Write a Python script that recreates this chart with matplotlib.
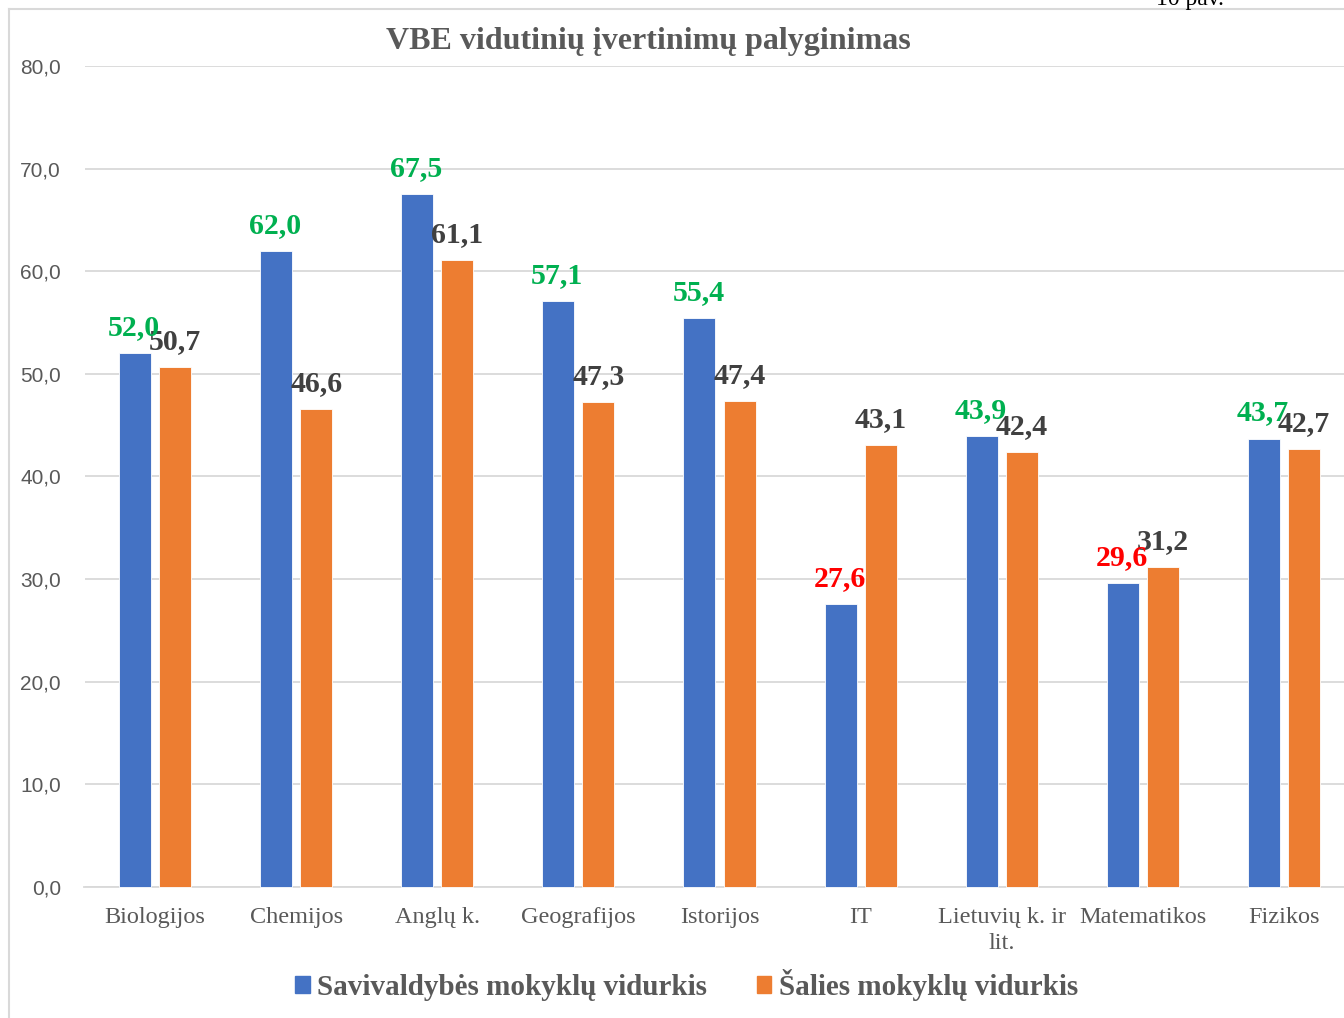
import matplotlib
matplotlib.use("Agg")
import matplotlib.pyplot as plt
from matplotlib.patches import Patch
import numpy as np

categories = ["Biologijos", "Chemijos", "Anglų k.", "Geografijos", "Istorijos",
              "IT", "Lietuvių k. ir\nlit.", "Matematikos", "Fizikos"]
savivaldybes = [52.0, 62.0, 67.5, 57.1, 55.4, 27.6, 43.9, 29.6, 43.7]
salies = [50.7, 46.6, 61.1, 47.3, 47.4, 43.1, 42.4, 31.2, 42.7]
yticks = [0, 10, 20, 30, 40, 50, 60, 70, 80]

BLUE = "#4472C4"
ORANGE = "#ED7D31"
GRAY = "#595959"
SERIF = ["Liberation Serif", "DejaVu Serif"]
SANS = ["Liberation Sans", "DejaVu Sans"]

fig = plt.figure(figsize=(13.44, 10.18), dpi=100)
ax = fig.add_axes([84.5 / 1344, 131 / 1018, 1270 / 1344, 821 / 1018])

x = np.arange(len(categories))
w = 0.227
off = 0.142
ax.bar(x - off, savivaldybes, w, color=BLUE, edgecolor="white", linewidth=0.6, zorder=3, clip_on=False)
ax.bar(x + off, salies, w, color=ORANGE, edgecolor="white", linewidth=0.6, zorder=3, clip_on=False)

def fmt(v):
    return f"{v:.1f}".replace(".", ",")

for xi, a, b in zip(x, savivaldybes, salies):
    col = "#00B050" if a >= b else "#FF0000"
    ax.annotate(fmt(a), (xi - off, a), xytext=(-1, 18), textcoords="offset pixels",
                ha="center", va="baseline", fontsize=21.5, fontweight="bold",
                family=SERIF, color=col, zorder=5, annotation_clip=False)
    ax.annotate(fmt(b), (xi + off, b), xytext=(0, 18), textcoords="offset pixels",
                ha="center", va="baseline", fontsize=21.5, fontweight="bold",
                family=SERIF, color="#404040", zorder=4, annotation_clip=False)

ax.set_xlim(-0.5, 8.5)
ax.set_ylim(0, 80)
ax.set_yticks(yticks)
ax.set_yticklabels([fmt(v) for v in yticks], family=SANS, fontsize=15, color=GRAY)
ax.set_xticks(x)
ax.set_xticklabels(categories, family=SERIF, fontsize=17.5, color=GRAY, linespacing=1.3)
ax.tick_params(axis="both", length=0)
ax.tick_params(axis="y", pad=17)
ax.tick_params(axis="x", pad=14.5)
ax.grid(axis="y", color="#D9D9D9", linewidth=1.3, zorder=0)
for s in ["top", "right", "left"]:
    ax.spines[s].set_visible(False)
ax.spines["bottom"].set_color("#D9D9D9")
ax.spines["bottom"].set_linewidth(1.3)

fig.text(648 / 1344, 1 - 42 / 1018, "VBE vidutinių įvertinimų palyginimas",
         ha="center", va="center", fontsize=23, fontweight="bold", family=SERIF, color=GRAY)

fig.text(1190 / 1344, 1 - 5 / 1018, "10 pav.", ha="center", va="baseline",
         fontsize=17, family=SERIF, color="black")

# outer border
fig.add_artist(plt.Line2D([9 / 1344, 9 / 1344], [0, 1 - 9 / 1018], transform=fig.transFigure,
                          color="#D9D9D9", linewidth=1.5))
fig.add_artist(plt.Line2D([9 / 1344, 1], [1 - 9 / 1018, 1 - 9 / 1018], transform=fig.transFigure,
                          color="#D9D9D9", linewidth=1.5))

handles = [Patch(color=BLUE), Patch(color=ORANGE)]
fig.legend(handles, ["Savivaldybės mokyklų vidurkis", "Šalies mokyklų vidurkis"],
           loc="center", bbox_to_anchor=(686.5 / 1344, 1 - 985 / 1018), ncol=2,
           frameon=False, handlelength=0.5, handleheight=0.5, handletextpad=0.25,
           columnspacing=1.7, prop={"family": SERIF, "size": 21, "weight": "bold"},
           labelcolor=GRAY)

fig.savefig("out.png", dpi=100)
